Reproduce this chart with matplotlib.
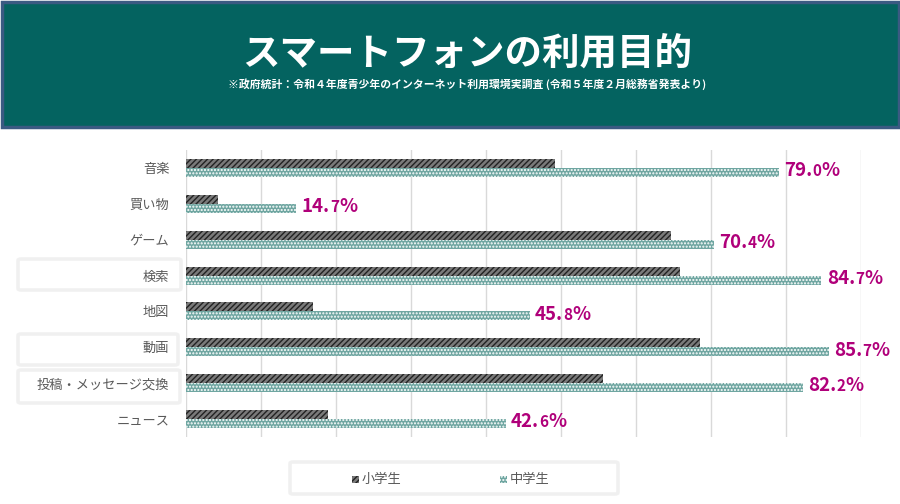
import numpy as np
import matplotlib
matplotlib.use("Agg")
import matplotlib.pyplot as plt
from matplotlib.patches import Rectangle, FancyBboxPatch
from matplotlib.offsetbox import TextArea, HPacker, AnnotationBbox

plt.rcParams['font.family'] = ['Noto Sans CJK JP', 'DejaVu Sans']
plt.rcParams['hatch.linewidth'] = 1.0

# data
categories = ['音楽', '買い物', 'ゲーム', '検索', '地図', '動画', '投稿・メッセージ交換', 'ニュース']
elementary = [49.2, 4.2, 64.7, 65.9, 16.9, 68.5, 55.6, 18.9]
junior_high = [79.0, 14.7, 70.4, 84.7, 45.8, 85.7, 82.2, 42.6]
series_names = ['小学生', '中学生']
title = 'スマートフォンの利用目的'
subtitle = '※政府統計：令和４年度青少年のインターネット利用環境実調査 (令和５年度２月総務省発表より)'

W, H = 900, 504
fig = plt.figure(figsize=(9, 5.04), dpi=100)
fig.patch.set_facecolor('white')

def fx(px):
    return px / W

def fy(py):
    return 1 - py / H

# title banner
fig.patches.append(Rectangle((fx(1.5), fy(127)), fx(897), 125.5 / H, transform=fig.transFigure,
                             facecolor='#046360', edgecolor='#3a5a82', linewidth=2.5))
fig.text(fx(467), fy(53), title, color='white', fontsize=27, fontweight='bold',
         ha='center', va='center')
fig.text(fx(467), fy(84), subtitle, color='white', fontsize=7.8, fontweight='bold',
         ha='center', va='center')

# plot area
left, right, top, bottom = 186, 861, 150, 437
ax = fig.add_axes([fx(left), fy(bottom), fx(right - left), (bottom - top) / H])
y = np.arange(len(categories))
bh = 0.25
ax.barh(y - bh / 2, elementary, height=bh, facecolor='#7a7a7a', edgecolor='#222222',
        hatch='//////', linewidth=0)
ax.barh(y + bh / 2, junior_high, height=bh, facecolor='#6fa6a1', edgecolor='white',
        hatch='.....', linewidth=0)
ax.set_xlim(0, 90)
ax.set_ylim(len(categories) - 0.5, -0.5)
ax.set_xticks(np.arange(0, 91, 10))
ax.set_xticklabels([])
ax.tick_params(axis='x', length=0)
ax.tick_params(axis='y', length=0, pad=12, labelsize=9.5, labelcolor='#595959')
ax.set_yticks(y)
ax.set_yticklabels(categories)
ax.grid(axis='x', color='#d9d9d9', linewidth=1)
ax.set_axisbelow(True)
for s in ax.spines.values():
    s.set_visible(False)

# value labels for junior high bars
for i, v in enumerate(junior_high):
    whole, dec = f'{v:.1f}'.split('.')
    big = dict(color='#b0007a', fontsize=13.5, fontweight='bold')
    small = dict(color='#b0007a', fontsize=11, fontweight='bold')
    box = HPacker(children=[TextArea(whole + '.', textprops=big),
                            TextArea(dec, textprops=small),
                            TextArea('%', textprops=big)],
                  align='baseline', pad=0, sep=0)
    ab = AnnotationBbox(box, (v, i), xybox=(4, -2), xycoords='data',
                        boxcoords='offset points', box_alignment=(0, 0.5),
                        frameon=False, annotation_clip=False)
    ax.add_artist(ab)

# light boxes around some category labels
for (x0, y0, x1, y1) in [(18, 259, 181, 290), (18, 334, 178, 365), (18, 370, 180, 403)]:
    fig.patches.append(FancyBboxPatch((fx(x0), fy(y1)), fx(x1 - x0), (y1 - y0) / H,
                                      boxstyle='round,pad=0,rounding_size=0.003',
                                      transform=fig.transFigure, facecolor='none',
                                      edgecolor='#f0f0f0', linewidth=2.5))

# legend
fig.patches.append(FancyBboxPatch((fx(290), fy(494)), fx(328), 32 / H,
                                  boxstyle='round,pad=0,rounding_size=0.003',
                                  transform=fig.transFigure, facecolor='white',
                                  edgecolor='#f0f0f0', linewidth=2.5))
legend_x = [352, 500]
styles = [dict(facecolor='#7a7a7a', edgecolor='#222222', hatch='//////'),
          dict(facecolor='#6fa6a1', edgecolor='white', hatch='.....')]
for lx, name, st in zip(legend_x, series_names, styles):
    fig.patches.append(Rectangle((fx(lx), fy(483)), fx(7), 7 / H, transform=fig.transFigure,
                                 linewidth=0, **st))
    fig.text(fx(lx + 10), fy(479), name, fontsize=9.5, color='#595959', va='center', ha='left')

fig.savefig('out.png', dpi=100, facecolor='white')
